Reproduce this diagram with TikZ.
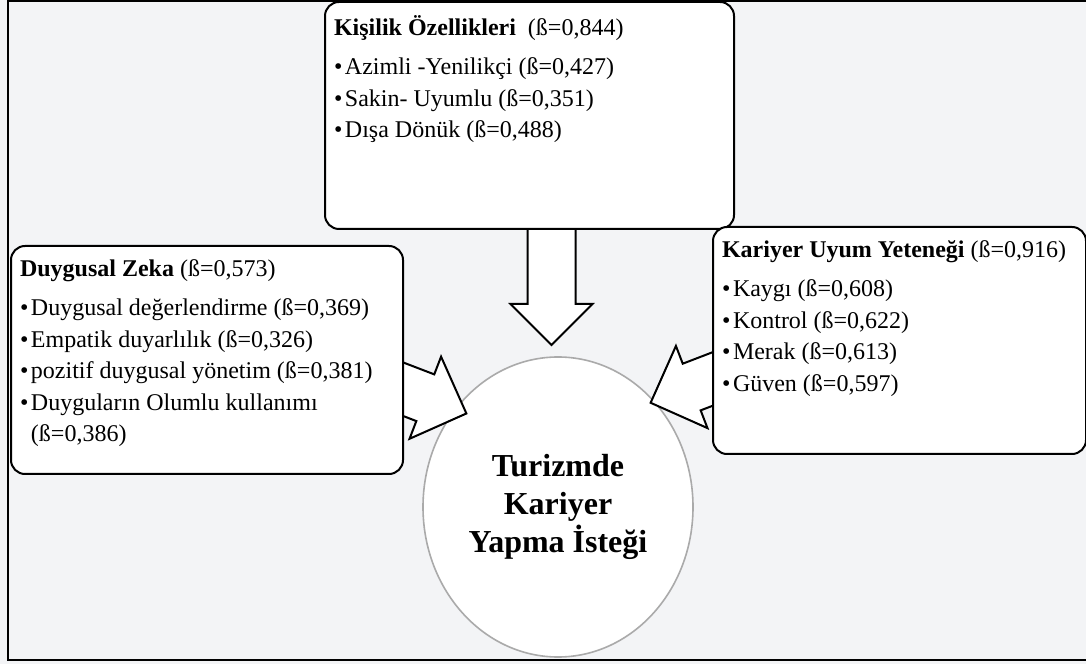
\documentclass[tikz,border=0pt]{standalone}
\usepackage{fontspec}
\setmainfont{Liberation Serif}
\usetikzlibrary{shapes.geometric,shapes.arrows}
\definecolor{zemin}{RGB}{243,244,246}
\definecolor{cember}{RGB}{170,170,170}
\newcommand{\baslik}[2]{{\bfseries #1}#2\par\vspace{3.5pt}}
\newcommand{\madde}[1]{\par\hangindent=5.5pt\hangafter=1\makebox[5.5pt][l]{\textbullet}#1}

\begin{document}
\begin{tikzpicture}[x=0.5pt, y=0.5pt,
    kutu/.style={rectangle, rounded corners=7pt, draw, line width=1pt, fill=white,
      inner xsep=4.5pt, inner ysep=4pt, anchor=north west, font=\fontsize{12}{15.8}\selectfont},
    blok/.style={single arrow, draw, line width=1pt, fill=white,
      single arrow head extend=9.5pt, inner sep=12pt, minimum height=45pt}]
  \useasboundingbox (0,0) rectangle (1086,664);
  \clip (0,0) rectangle (1086,664);
  \fill[zemin] (0,0) rectangle (1086,664);
  \draw[line width=1pt] (8,4) rectangle (1100,663);

  % hedef
  \node (hedef) at (558,157) [ellipse, draw=cember, line width=0.8pt, fill=white,
    inner sep=0pt, minimum width=135pt, minimum height=150pt, align=center,
    font=\fontsize{16}{19}\selectfont\bfseries] {Turizmde\\Kariyer\\Yapma İsteği};

  % oklar
  \node (ok1) at (551.5,437) [blok, anchor=tail, rotate=-90, inner sep=11.5pt, single arrow head extend=8.5pt, minimum height=58.5pt] {};
  \node (ok2) at (467.7,250) [blok, anchor=tip, rotate=-21] {};
  \node (ok3) at (649.3,260.7) [blok, anchor=tip, rotate=201] {};

  % kutular
  \node (kisilik) at (324,663) [kutu] {\begin{minipage}[t][105.5pt][t]{195.5pt}
    \vspace*{3pt}
    \baslik{Kişilik Özellikleri}{\ \ (ß=0,844)}
    \madde{Azimli -Yenilikçi (ß=0,427)}
    \madde{Sakin- Uyumlu (ß=0,351)}
    \madde{Dışa Dönük (ß=0,488)}
  \end{minipage}};
  \node (duygusal) at (10,419) [kutu] {\begin{minipage}[t][106pt][t]{187pt}
    \vspace*{3pt}
    \baslik{Duygusal Zeka}{ (ß=0,573)}
    \madde{Duygusal değerlendirme (ß=0,369)}
    \madde{Empatik duyarlılık (ß=0,326)}
    \madde{pozitif duygusal yönetim (ß=0,381)}
    \madde{Duyguların Olumlu kullanımı\\(ß=0,386)}
  \end{minipage}};
  \node (kariyer) at (712,438) [kutu] {\begin{minipage}[t][105.5pt][t]{177.5pt}
    \vspace*{3pt}
    \baslik{Kariyer Uyum Yeteneği}{ (ß=0,916)}
    \madde{Kaygı (ß=0,608)}
    \madde{Kontrol (ß=0,622)}
    \madde{Merak (ß=0,613)}
    \madde{Güven (ß=0,597)}
  \end{minipage}};
\end{tikzpicture}
\end{document}
